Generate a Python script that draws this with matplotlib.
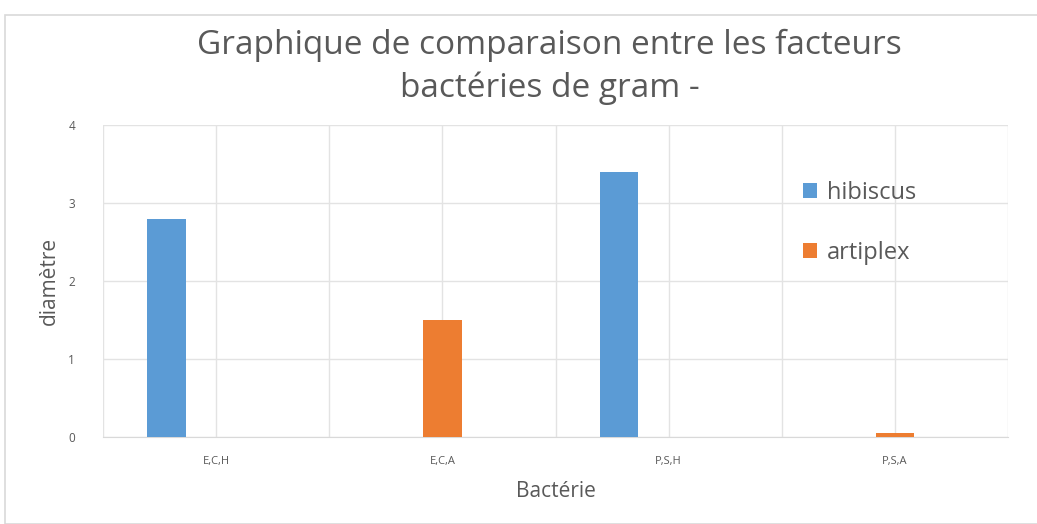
import matplotlib
matplotlib.use("Agg")
import matplotlib.pyplot as plt
import numpy as np
from matplotlib.patches import Rectangle

# data
categories = ["E,C,H", "E,C,A", "P,S,H", "P,S,A"]
hibiscus = [2.8, 0, 3.4, 0]
artiplex = [0, 1.5, 0, 0.05]

blue = "#5b9bd5"
orange = "#ed7d31"
gray = "#595959"

plt.rcParams['font.family'] = ['Open Sans', 'DejaVu Sans']

fig = plt.figure(figsize=(10.37, 5.24), dpi=100)
ax = fig.add_axes([103/1037, 1 - 437/524, (1008-103)/1037, (437-125)/524])

x = np.arange(len(categories))
w = 0.17
ax.bar(x - 0.22, hibiscus, w, color=blue, label="hibiscus", zorder=3)
ax.bar(x, artiplex, w, color=orange, label="artiplex", zorder=3)

ax.set_xlim(-0.5, 3.5)
ax.set_ylim(0, 4)
ax.set_yticks([0, 1, 2, 3, 4])
ax.set_xticks(x)
ax.set_xticklabels(categories)
ax.set_xticks(np.arange(-0.5, 3.6, 1.0), minor=True)
ax.tick_params(which="both", length=0)
ax.tick_params(axis="x", labelsize=8, colors=gray, pad=14)
ax.tick_params(axis="y", labelsize=8.5, colors=gray, pad=20)
ax.grid(True, which="both", color="#e3e3e3", linewidth=1, zorder=0)

for s in ["top", "right", "left"]:
    ax.spines[s].set_visible(False)
ax.spines["bottom"].set_color("#d9d9d9")

ax.set_xlabel("Bactérie", fontsize=15, color=gray, labelpad=10)
ax.set_ylabel("diamètre", fontsize=15, color=gray, labelpad=6)

fig.text(0.53, 1 - 45/524, "Graphique de comparaison entre les facteurs",
         ha="center", va="center", fontsize=24, color=gray)
fig.text(0.53, 1 - 88/524, "bactéries de gram -",
         ha="center", va="center", fontsize=24, color=gray)

leg = ax.legend(loc="upper left", bbox_to_anchor=(0.75, 0.89), frameon=False,
                fontsize=17, labelcolor=gray, handlelength=0.6, handleheight=0.6,
                handletextpad=0.4, labelspacing=1.55)

fig.patches.append(Rectangle((5/1037, 0.0), 1.2, 1 - 15/524, transform=fig.transFigure,
                             fill=False, edgecolor="#d9d9d9", linewidth=1.2))

fig.savefig("out.png", dpi=100)
